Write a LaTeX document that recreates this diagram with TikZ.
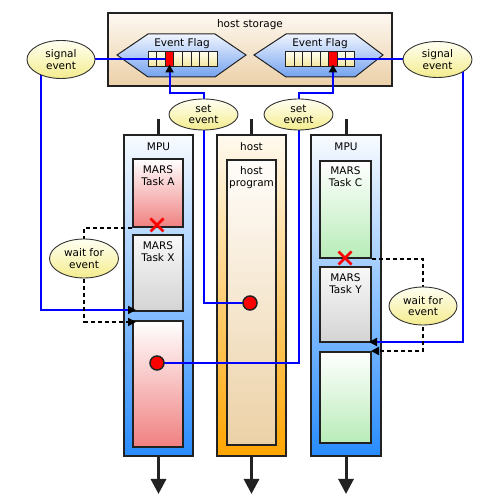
\documentclass[tikz,border=0pt]{standalone}
\usepackage{fontspec}
\setmainfont{DejaVu Sans}
\usetikzlibrary{arrows.meta,shapes.geometric}
\pgfdeclarelayer{back}
\pgfdeclarelayer{lines}
\pgfsetlayers{back,lines,main}
\definecolor{bdr}{HTML}{222222}
\definecolor{mpuT}{HTML}{F8FBFF}
\definecolor{mpuB}{HTML}{288CFF}
\definecolor{hostT}{HTML}{FFFAF0}
\definecolor{hostB}{HTML}{FFA500}
\definecolor{progT}{HTML}{FFFDFA}
\definecolor{progB}{HTML}{ECD1A6}
\definecolor{hsT}{HTML}{FDF8F1}
\definecolor{hsB}{HTML}{ECD0A8}
\definecolor{pinkB}{HTML}{F08080}
\definecolor{grayT}{HTML}{F8F8F8}
\definecolor{grayB}{HTML}{D4D4D4}
\definecolor{greenB}{HTML}{B8ECB8}
\definecolor{hexT}{HTML}{F0F5FF}
\definecolor{hexB}{HTML}{74A2EE}
\definecolor{cellT}{HTML}{FFFEF0}
\definecolor{cellB}{HTML}{F3E69C}
\definecolor{bubT}{HTML}{FFFFF2}
\definecolor{bubB}{HTML}{F4EC8E}
\definecolor{bubD}{HTML}{333333}
\tikzset{
 box/.style={rectangle, draw=bdr, line width=2pt, inner sep=0pt},
 mpucol/.style={box, top color=mpuT, bottom color=mpuB, minimum width=69pt, minimum height=321pt},
 hostcol/.style={box, top color=hostT, bottom color=hostB, minimum width=69pt, minimum height=321pt},
 pinktask/.style={box, top color=white, bottom color=pinkB, minimum width=50pt},
 graytask/.style={box, top color=grayT, bottom color=grayB, minimum width=50pt},
 greentask/.style={box, top color=white, bottom color=greenB, minimum width=51pt},
 lbl/.style={align=center, inner sep=0pt, anchor=north},
 bubble/.style={ellipse, draw=bubD, line width=0.9pt, top color=bubT, bottom color=bubB, inner sep=0pt, align=center},
 bl/.style={draw=blue, line width=2pt},
 dl/.style={draw=black, line width=2pt, dash pattern=on 4pt off 3pt},
 endtip/.style={-{Triangle[length=8pt,width=8pt,color=black]}},
 stub/.style={draw=bdr, line width=3pt},
 reddot/.style={circle, fill=red, draw=bdr, line width=1.5pt, minimum size=14pt, inner sep=0pt},
 xmark/.style={draw=red, line width=2.5pt},
 cellbox/.style={draw=bdr, line width=1pt, top color=cellT, bottom color=cellB},
 redcell/.style={rectangle, draw=bdr, line width=1pt, fill=red, minimum width=8.625pt, minimum height=15pt, inner sep=0pt},
 hexa/.style={draw=bdr, line width=1pt, top color=hexT, bottom color=hexB},
}
\begin{document}
\begin{tikzpicture}[x=1pt,y=1pt,font=\fontsize{10.5pt}{11.5pt}\selectfont]
\useasboundingbox (0,0) rectangle (500,500);
\begin{pgfonlayer}{back}
\fill[white] (0,0) rectangle (500,500);
% host storage
\node[box, line width=2.5pt, top color=hsT, bottom color=hsB, minimum width=284pt, minimum height=73pt] (hs) at (250,450.5) {};
\node[anchor=base, inner sep=0pt] (hstitle) at (250,472.5) {host storage};
\path[hexa] (117,445)--(148,466)--(215,466)--(246,445)--(215,423)--(148,423)--cycle;
\path[hexa] (254,445)--(286,466)--(355,466)--(383,445)--(355,423)--(286,423)--cycle;
\node[anchor=base, inner sep=0pt] (efL) at (182,453) {Event Flag};
\node[anchor=base, inner sep=0pt] (efR) at (320,453) {Event Flag};
\foreach \i in {0,...,7} {
  \path[cellbox] ({148+\i*8.625},433) rectangle ++(8.625,15);
  \path[cellbox] ({285.5+\i*8.625},433) rectangle ++(8.625,15);
}
\node[redcell] (cellL) at (169.56,440.5) {};
\node[redcell] (cellR) at (332.94,440.5) {};
% columns
\node[mpucol] (mpuL) at (158.5,204.5) {};
\node[hostcol] (hostC) at (251.5,204.5) {};
\node[mpucol, minimum width=70pt] (mpuR) at (346,204.5) {};
\node[anchor=base, inner sep=0pt] (mpuLt) at (158.5,349.3) {MPU};
\node[anchor=base, inner sep=0pt] (hostCt) at (251.5,349.3) {host};
\node[anchor=base, inner sep=0pt] (mpuRt) at (346,349.3) {MPU};
% tasks
\node[pinktask, minimum height=68pt] (taskA) at (158,307) {};
\node[graytask, minimum height=76pt] (taskX) at (158,227) {};
\node[pinktask, minimum height=126pt] (task3L) at (158,116) {};
\node[box, top color=progT, bottom color=progB, minimum width=49pt, minimum height=285pt] (prog) at (251.5,197.5) {};
\node[greentask, minimum height=97pt] (taskC) at (345.5,290.5) {};
\node[graytask, minimum width=51pt, minimum height=75pt] (taskY) at (345.5,195.5) {};
\node[greentask, minimum height=91pt] (task3R) at (345.5,102.5) {};
\node[lbl] (taskAt) at ([yshift=-7.7pt]taskA.north) {MARS\\Task A};
\node[lbl] (taskXt) at ([yshift=-7.7pt]taskX.north) {MARS\\Task X};
\node[lbl] (progt) at ([yshift=-7.5pt]prog.north) {host\\program};
\node[lbl] (taskCt) at ([yshift=-7pt]taskC.north) {MARS\\Task C};
\node[lbl] (taskYt) at ([yshift=-7.7pt]taskY.north) {MARS\\Task Y};
\end{pgfonlayer}
% bubbles, dots
\node[bubble, minimum width=68pt, minimum height=38pt] (sigL) at (61,440.5) {signal\\event};
\node[bubble, minimum width=69pt, minimum height=36pt] (sigR) at (437.5,440.5) {signal\\event};
\node[bubble, minimum width=69pt, minimum height=31pt] (setL) at (203.5,385.5) {set\\event};
\node[bubble, minimum width=69pt, minimum height=31pt] (setR) at (298.5,385.5) {set\\event};
\node[bubble, minimum width=69pt, minimum height=39pt] (waitL) at (84,241.5) {wait for\\event};
\node[bubble, minimum width=68pt, minimum height=38pt] (waitR) at (423,194) {wait for\\event};
\node[reddot] (dotH) at (250,197) {};
\node[reddot] (dotL) at (157,137) {};
\coordinate (xA) at (157,275);
\coordinate (xC) at (345,242);
\draw[xmark] (xA) ++(-6.5,-6.5) -- ++(13,13) (xA) ++(-6.5,6.5) -- ++(13,-13);
\draw[xmark] (xC) ++(-6.5,-6.5) -- ++(13,13) (xC) ++(-6.5,6.5) -- ++(13,-13);
\begin{pgfonlayer}{lines}
% stubs and down arrows
\draw[stub] (mpuL.north) -- ++(0,15);
\draw[stub] (hostC.north) -- ++(0,15);
\draw[stub] (mpuR.north) -- ++(0,15);
\draw[stub,-{Triangle[length=15pt,width=15pt]}] (mpuL.south) -- ++(0,-37);
\draw[stub,-{Triangle[length=15pt,width=15pt]}] (hostC.south) -- ++(0,-37);
\draw[stub,-{Triangle[length=15pt,width=15pt]}] (mpuR.south) -- ++(0,-37);
% set event
\draw[bl,endtip,shorten >=-3pt] (dotH.center) -| (setL.center) -- ++(0,21.5) -| (cellL.south);
\draw[bl,endtip,shorten >=-3pt] (dotL.center) -| (setR.center) -- ++(0,21.5) -| (cellR.south);
% signal event
\draw[bl] (sigL.center) -- (cellL.west);
\draw[bl] (cellR.east) -- (sigR.center);
\draw[bl,endtip] ([xshift=-20pt]sigL.center) |- ([xshift=4pt,yshift=2pt]taskX.south west);
\draw[bl,endtip] ([xshift=25.5pt]sigR.center) |- ([xshift=-3pt,yshift=1pt]taskY.south east);
% wait for event
\draw[dl] (taskA.south west) -| (waitL.center);
\draw[dl,endtip] (waitL.center) |- ([xshift=4pt,yshift=-2pt]task3L.north west);
\draw[dl] (taskC.south east) -| (waitR.center);
\draw[dl,endtip] (waitR.center) |- ([xshift=-1pt]task3R.north east);
\end{pgfonlayer}
\end{tikzpicture}
\end{document}
